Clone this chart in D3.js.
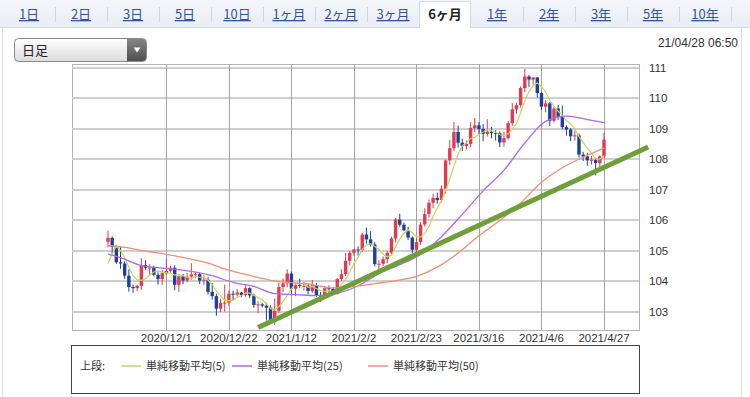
<!DOCTYPE html>
<html>
<head>
<meta charset="utf-8">
<script src="https://cdn.jsdelivr.net/npm/d3@7"></script>
<style>
  body { margin: 0; background: #fff; }
  svg { display: block; }
  .jp { font-family: "Noto Sans CJK JP", "Noto Sans", sans-serif; }
  .num { font-family: "Liberation Sans", Arial, sans-serif; }
</style>
</head>
<body>
<svg id="chart" width="750" height="397"></svg>
<script>
//period tabs
var tabLabels = ["1日","2日","3日","5日","10日","1ヶ月","2ヶ月","3ヶ月","6ヶ月","1年","2年","3年","5年","10年"];
var activeTab = "6ヶ月";

//daily candles, 2020/11/11 .. 2021/4/27 (one per weekday, index 0..119)
var opens = [105.30,105.43,105.13,104.63,104.59,104.19,103.82,103.78,103.86,104.54,
  104.45,104.46,104.22,104.08,104.27,104.35,104.45,103.89,104.17,104.03,
  104.16,104.23,104.24,104.03,104.06,103.66,103.52,103.11,103.30,103.31,
  103.60,103.57,103.64,103.55,103.78,103.54,103.23,103.25,103.21,103.14,
  102.71,103.04,103.82,103.94,104.26,103.76,103.89,103.86,103.86,103.69,
  103.88,103.54,103.52,103.78,103.76,103.60,104.08,104.24,104.68,104.94,
  105.05,105.03,105.54,105.38,105.21,104.57,104.58,104.73,104.94,105.41,
  106.03,105.86,105.68,105.44,105.04,105.29,105.87,106.21,106.58,106.74,
  106.67,107.04,107.97,108.37,108.90,108.55,108.44,108.51,109.03,109.12,
  109.00,108.84,108.91,108.87,108.86,108.56,108.70,109.19,109.64,109.78,
  110.34,110.72,110.62,110.69,110.18,109.73,109.84,109.27,109.67,109.39,
  109.06,108.98,108.76,108.79,108.16,108.10,107.97,107.99,107.88,108.10];

var highs = [105.67,105.48,105.20,105.14,104.66,104.40,103.90,103.90,104.76,104.70,
  104.57,104.52,104.30,104.38,104.75,104.52,104.53,104.20,104.25,104.28,
  104.60,104.30,104.29,104.20,104.14,103.95,103.60,103.44,103.90,103.70,
  103.70,103.75,103.66,103.88,103.81,103.60,103.35,103.30,103.30,103.22,
  103.44,103.96,104.10,104.40,104.33,103.95,104.09,103.98,103.94,104.05,
  103.95,103.66,103.85,103.87,103.82,104.11,104.40,104.94,105.00,105.08,
  105.15,105.60,105.77,105.65,105.29,104.70,104.82,105.00,105.47,106.08,
  106.22,105.93,105.79,105.48,105.47,105.95,106.40,106.69,106.88,106.91,
  107.15,108.00,108.64,109.23,109.11,108.68,108.62,109.23,109.36,109.23,
  109.16,109.32,109.07,108.96,108.92,108.90,109.26,109.85,109.86,110.40,
  110.97,110.77,110.70,110.70,110.20,109.95,109.88,109.72,109.78,109.77,
  109.12,109.03,108.95,108.85,108.25,108.22,108.12,108.05,108.14,108.88];

var lows = [105.12,104.87,104.58,104.42,104.08,103.67,103.63,103.69,103.73,104.38,
  104.20,104.17,103.90,103.88,104.21,104.29,103.71,103.66,103.91,103.97,
  104.06,104.11,103.92,103.89,103.57,103.41,102.88,103.00,103.01,103.20,
  103.38,103.51,103.48,103.50,103.45,103.14,102.96,103.15,102.72,102.61,
  102.57,102.96,103.65,103.81,103.59,103.52,103.78,103.70,103.58,103.63,
  103.50,103.33,103.46,103.65,103.55,103.57,104.02,104.18,104.53,104.84,
  104.85,104.96,105.24,105.15,104.50,104.41,104.50,104.60,104.89,105.28,
  105.80,105.65,105.36,104.93,104.97,105.20,105.80,106.10,106.40,106.55,
  106.60,106.88,107.82,108.27,108.39,108.27,108.33,108.40,108.90,108.82,
  108.60,108.75,108.70,108.62,108.41,108.42,108.65,109.10,109.50,109.70,
  110.21,110.38,110.45,110.03,109.62,109.55,109.10,109.22,109.30,108.99,
  108.78,108.60,108.62,108.06,107.95,107.80,107.83,107.48,107.72,108.05];

var closes = [105.43,105.13,104.63,104.59,104.19,103.82,103.78,103.86,104.54,104.45,
  104.46,104.22,104.08,104.27,104.35,104.45,103.89,104.17,104.03,104.16,
  104.23,104.24,104.03,104.06,103.66,103.52,103.11,103.30,103.31,103.60,
  103.57,103.64,103.55,103.78,103.54,103.23,103.25,103.21,103.14,102.71,
  103.04,103.82,103.94,104.26,103.76,103.89,103.86,103.86,103.69,103.88,
  103.54,103.52,103.78,103.76,103.60,104.08,104.24,104.68,104.94,105.05,
  105.03,105.54,105.38,105.21,104.57,104.58,104.73,104.94,105.41,106.03,
  105.86,105.68,105.44,105.04,105.29,105.87,106.21,106.58,106.74,106.67,
  107.04,107.97,108.37,108.90,108.55,108.44,108.51,109.03,109.12,109.00,
  108.84,108.91,108.87,108.86,108.56,108.70,109.19,109.64,109.78,110.34,
  110.72,110.62,110.69,110.18,109.73,109.84,109.27,109.67,109.39,109.06,
  108.98,108.76,108.79,108.16,108.10,107.97,107.99,107.88,108.10,108.65];

//moving averages
var ma5 = [104.58,104.91,105.16,105.01,104.79,104.47,104.20,104.05,104.04,104.09,
  104.22,104.31,104.35,104.30,104.28,104.27,104.21,104.23,104.18,104.14,
  104.10,104.17,104.14,104.14,104.04,103.90,103.68,103.53,103.38,103.37,
  103.38,103.48,103.53,103.63,103.62,103.55,103.47,103.40,103.27,103.11,
  103.07,103.18,103.33,103.55,103.76,103.93,103.94,103.93,103.81,103.84,
  103.77,103.70,103.68,103.70,103.64,103.75,103.89,104.07,104.31,104.60,
  104.79,105.05,105.19,105.24,105.15,105.06,104.89,104.81,104.85,105.14,
  105.39,105.58,105.68,105.61,105.46,105.46,105.57,105.80,106.14,106.41,
  106.65,107.00,107.36,107.79,108.17,108.45,108.55,108.69,108.73,108.82,
  108.90,108.98,108.95,108.90,108.81,108.78,108.84,108.99,109.17,109.53,
  109.93,110.22,110.43,110.51,110.39,110.21,109.94,109.74,109.58,109.45,
  109.27,109.17,109.00,108.75,108.56,108.36,108.20,108.02,108.01,108.12];

var ma25Idx = [0,3,8,14,20,25,30,35,40,45,50,55,60,65,70,75,80,85,90,95,100,105,110,115,119];
var ma25Val = [104.90,104.78,104.52,104.43,104.33,104.19,103.97,103.84,103.60,103.57,103.54,103.61,
  103.86,104.26,104.55,104.89,105.47,106.20,106.97,107.65,108.54,109.25,109.42,109.31,109.21];

var ma50Idx = [0,4,9,14,19,24,29,34,39,44,49,54,59,64,69,74,79,84,89,94,99,104,109,114,119];
var ma50Val = [105.18,105.12,105.00,104.89,104.76,104.60,104.37,104.20,104.04,103.96,103.90,103.79,
  103.84,103.93,104.03,104.17,104.47,104.93,105.50,106.00,106.57,107.25,107.73,108.07,108.37];

//hand drawn support line (candle index, price)
var trendIdx = [36, 129.6];
var trendVal = [102.49, 108.41];

var xTickIdx = [14,29,44,59,74,89,104,119];
var xTickLabels = ["2020/12/1","2020/12/22","2021/1/12","2021/2/2","2021/2/23","2021/3/16","2021/4/6","2021/4/27"];
var yTicks = [103,104,105,106,107,108,109,110,111];

var legendLabels = ["単純移動平均(5)","単純移動平均(25)","単純移動平均(50)"];
var maColors = ["#c3d65a","#b468e6","#f08f74"];

var svg = d3.select("#chart");
var W = 750, H = 397;

//---- tab bar
var defs = svg.append("defs");
var tabGrad = defs.append("linearGradient").attr("id","tabbg").attr("x1",0).attr("y1",0).attr("x2",0).attr("y2",1);
tabGrad.append("stop").attr("offset","0%").attr("stop-color","#f4f6fa");
tabGrad.append("stop").attr("offset","100%").attr("stop-color","#e9eef5");

svg.append("rect").attr("x",0).attr("y",0).attr("width",W).attr("height",28).attr("fill","url(#tabbg)");
svg.append("line").attr("x1",0).attr("x2",W).attr("y1",27.5).attr("y2",27.5).attr("stroke","#d3dae5");

var tabX = d3.scaleBand().domain(tabLabels).range([3, 731]);

tabLabels.forEach(function(t, i) {
  var x0 = tabX(t), bw = tabX.bandwidth();
  if (t === activeTab) {
    svg.append("rect").attr("x",x0).attr("y",1).attr("width",bw).attr("height",28).attr("fill","#fff");
    svg.append("path").attr("d","M"+(x0+0.5)+",28V1.5H"+(x0+bw-0.5)+"V28")
      .attr("fill","none").attr("stroke","#d3dae5");
  } else if (i > 0 && tabLabels[i-1] !== activeTab) {
    svg.append("line").attr("x1",x0+0.5).attr("x2",x0+0.5).attr("y1",7).attr("y2",22).attr("stroke","#d0d6df");
  }
  var txt = svg.append("text").attr("class","jp")
    .attr("x", x0 + bw/2).attr("y", 19)
    .attr("text-anchor","middle")
    .attr("font-size", 13)
    .text(t);
  if (t === activeTab) {
    txt.attr("fill","#222").attr("font-weight","bold");
  } else {
    txt.attr("fill","#3553a4").attr("text-decoration","underline");
  }
});
svg.append("line").attr("x1",731.5).attr("x2",731.5).attr("y1",7).attr("y2",22).attr("stroke","#d0d6df");

//panel side borders
svg.append("line").attr("x1",2.5).attr("x2",2.5).attr("y1",28).attr("y2",H).attr("stroke","#dde2ea");
svg.append("line").attr("x1",741.5).attr("x2",741.5).attr("y1",28).attr("y2",H).attr("stroke","#dde2ea");

//---- dropdown
var ddGrad = defs.append("linearGradient").attr("id","ddbg").attr("x1",0).attr("y1",0).attr("x2",0).attr("y2",1);
ddGrad.append("stop").attr("offset","0%").attr("stop-color","#ffffff");
ddGrad.append("stop").attr("offset","100%").attr("stop-color","#dcdcdc");
var btnGrad = defs.append("linearGradient").attr("id","btnbg").attr("x1",0).attr("y1",0).attr("x2",0).attr("y2",1);
btnGrad.append("stop").attr("offset","0%").attr("stop-color","#858585");
btnGrad.append("stop").attr("offset","100%").attr("stop-color","#4e4e4e");

svg.append("rect").attr("x",14.5).attr("y",38.5).attr("width",132).attr("height",23).attr("rx",4)
  .attr("fill","url(#ddbg)").attr("stroke","#8a8a8a");
svg.append("path").attr("d","M127,39H142.5A3.5,3.5 0 0 1 146,42.5V57.5A3.5,3.5 0 0 1 142.5,61H127Z")
  .attr("fill","url(#btnbg)");
svg.append("path").attr("d","M133.5,47.5H140.5L137,52.5Z").attr("fill","#fff");
svg.append("text").attr("class","jp").attr("x",22).attr("y",55).attr("font-size",13).attr("fill","#222").text("日足");

svg.append("text").attr("class","num").attr("x",738).attr("y",47).attr("text-anchor","end")
  .attr("font-size",12).attr("fill","#333").text("21/04/28 06:50");

//---- price chart
var plot = { left: 72, right: 639, top: 64, bottom: 330 };

var x = d3.scaleLinear().domain([-8.64, 127.4]).range([plot.left, plot.right]);
var y = d3.scaleLinear().domain([102.41, 111.13]).range([plot.bottom, plot.top]);

var g = svg.append("g");

g.append("rect").attr("x",plot.left+0.5).attr("y",plot.top+0.5)
  .attr("width",plot.right-plot.left).attr("height",plot.bottom-plot.top)
  .attr("fill","#fff").attr("stroke","#b4b4b4");

g.selectAll("line.hgrid").data(yTicks).enter().append("line")
  .attr("class","hgrid")
  .attr("x1",plot.left).attr("x2",plot.right)
  .attr("y1",function(d){ return Math.round(y(d)); })
  .attr("y2",function(d){ return Math.round(y(d)); })
  .attr("stroke","#cfcfcf").attr("stroke-width",2);

g.selectAll("line.vgrid").data(xTickIdx).enter().append("line")
  .attr("class","vgrid")
  .attr("x1",function(d){ return Math.round(x(d))+0.5; })
  .attr("x2",function(d){ return Math.round(x(d))+0.5; })
  .attr("y1",plot.top).attr("y2",plot.bottom)
  .attr("stroke","#a4a4a4").attr("stroke-width",1);

//axes as text labels
g.selectAll("text.ylab").data(yTicks).enter().append("text")
  .attr("class","num ylab")
  .attr("x",649).attr("y",function(d){ return y(d) + 4; })
  .attr("font-size",11.5).attr("fill","#333")
  .text(function(d){ return d; });

g.selectAll("text.xlab").data(xTickIdx).enter().append("text")
  .attr("class","num xlab")
  .attr("x",function(d){ return x(d); }).attr("y",342)
  .attr("text-anchor","middle")
  .attr("font-size",11.5).attr("fill","#333")
  .text(function(d, i){ return xTickLabels[i]; });

//candles
var candles = closes.map(function(c, i) {
  return { i: i, o: opens[i], h: highs[i], l: lows[i], c: c };
});
var upColor = "#e23a4e", downColor = "#1f3f9c";
var colorOf = function(d) { return d.c >= d.o ? upColor : downColor; };

g.selectAll("line.wick").data(candles).enter().append("line")
  .attr("class","wick")
  .attr("x1",function(d){ return x(d.i); }).attr("x2",function(d){ return x(d.i); })
  .attr("y1",function(d){ return y(d.h); }).attr("y2",function(d){ return y(d.l); })
  .attr("stroke",colorOf).attr("stroke-width",1);

g.selectAll("rect.body").data(candles).enter().append("rect")
  .attr("class","body")
  .attr("x",function(d){ return x(d.i) - 1.7; })
  .attr("width",3.4)
  .attr("y",function(d){ return y(Math.max(d.o,d.c)); })
  .attr("height",function(d){ return Math.max(1, Math.abs(y(d.o) - y(d.c))); })
  .attr("fill",colorOf);

//moving averages
var lineIdx = d3.line()
  .x(function(d){ return x(d[0]); })
  .y(function(d){ return y(d[1]); });

g.append("path")
  .datum(ma5.map(function(v, i){ return [i, v]; }))
  .attr("d", lineIdx)
  .attr("fill","none").attr("stroke",maColors[0]).attr("stroke-width",1.2);

g.append("path")
  .datum(ma25Idx.map(function(v, i){ return [v, ma25Val[i]]; }))
  .attr("d", lineIdx.curve(d3.curveMonotoneX))
  .attr("fill","none").attr("stroke",maColors[1]).attr("stroke-width",1.3);

g.append("path")
  .datum(ma50Idx.map(function(v, i){ return [v, ma50Val[i]]; }))
  .attr("d", lineIdx.curve(d3.curveMonotoneX))
  .attr("fill","none").attr("stroke",maColors[2]).attr("stroke-width",1.3);

//support line drawn over the chart
g.append("line")
  .attr("x1",x(trendIdx[0])).attr("y1",y(trendVal[0]))
  .attr("x2",x(trendIdx[1])).attr("y2",y(trendVal[1]))
  .attr("stroke","#6f9f3a").attr("stroke-width",5);

//---- legend
svg.append("rect").attr("x",71.5).attr("y",345.5).attr("width",568).attr("height",48)
  .attr("fill","#fff").attr("stroke","#444");
svg.append("text").attr("class","jp").attr("x",80).attr("y",370).attr("font-size",11).attr("fill","#333").text("上段:");

var legendX = [121, 232, 368];
legendLabels.forEach(function(lbl, i) {
  svg.append("line").attr("x1",legendX[i]).attr("x2",legendX[i]+20)
    .attr("y1",366).attr("y2",366)
    .attr("stroke",maColors[i]).attr("stroke-width",1.5);
  svg.append("text").attr("class","jp").attr("x",legendX[i]+25).attr("y",370)
    .attr("font-size",11).attr("fill","#333").text(lbl);
});
</script>
</body>
</html>
